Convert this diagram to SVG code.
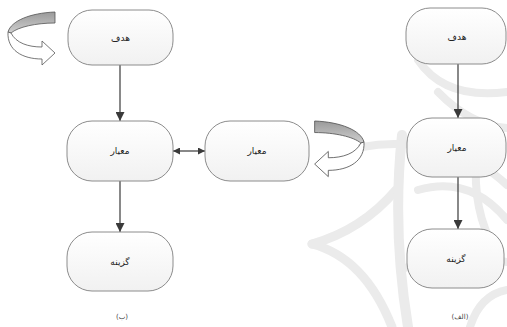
<svg xmlns="http://www.w3.org/2000/svg" width="507" height="327" viewBox="0 0 507 327">
  <defs>
    <linearGradient id="nodeFill" x1="0" y1="0" x2="0" y2="1">
      <stop offset="0" stop-color="#ffffff"/>
      <stop offset="1" stop-color="#f1f1f1"/>
    </linearGradient>
    <linearGradient id="bandFill" x1="0" y1="0" x2="0" y2="1">
      <stop offset="0" stop-color="#9a9a9a"/>
      <stop offset="1" stop-color="#cfcfcf"/>
    </linearGradient>
    <marker id="head" viewBox="0 0 10 10" refX="10" refY="5" markerWidth="7" markerHeight="7" orient="auto-start-reverse" markerUnits="userSpaceOnUse">
      <path d="M0,0 L10,5 L0,10 Z" fill="#3a3a3a"/>
    </marker>
    <marker id="headBig" viewBox="0 0 10 10" refX="10" refY="5" markerWidth="9" markerHeight="9" orient="auto" markerUnits="userSpaceOnUse">
      <path d="M0,0 L10,5 L0,10 Z" fill="#3a3a3a"/>
    </marker>
    <!-- U-turn ribbon arrow: grey back band on top, white front ribbon ending in a head -->
    <g id="uturn">
      <path d="M47,0 L47,11 C28,11 10,15 3,21 L0,20 C3,9 22,1 47,0 Z" fill="url(#bandFill)" stroke="#555" stroke-width="0.8" stroke-linejoin="round"/>
      <path d="M3,21 C8,31 20,35 34,35 L34,29 L47,41 L34,53 L34,47 C14,47 -1,38 0,20 Z" fill="#fff" stroke="#555" stroke-width="0.8" stroke-linejoin="round"/>
    </g>
  </defs>
  <style>
    .node rect { fill: url(#nodeFill); stroke: #8c8c8c; stroke-width: 1; }
    .node text { font-family: "DejaVu Sans", sans-serif; font-size: 9px; fill: #222; text-anchor: middle; }
    .edge { stroke: #3a3a3a; stroke-width: 1.2; fill: none; }
    .caption { font-family: "DejaVu Sans", sans-serif; font-size: 7px; fill: #444; text-anchor: middle; }
    .wm { fill: none; stroke: #ebebeb; stroke-linecap: round; }
  </style>

  <rect width="507" height="327" fill="#fff"/>

  <!-- faint arabesque emblem in the background -->
  <g id="emblem">
    <path class="wm" stroke-width="9" d="M312,244 Q362,230 396,190"/>
    <path class="wm" stroke-width="9" d="M312,244 Q365,258 392,327"/>
    <path class="wm" stroke-width="10" d="M402,135 Q392,230 408,327"/>
    <path class="wm" stroke-width="8" d="M362,147 Q400,140 445,150 Q480,160 507,185"/>
    <path class="wm" stroke-width="8" d="M418,60 Q445,100 507,92"/>
    <path class="wm" stroke-width="8" d="M438,92 Q470,125 507,128"/>
    <path class="wm" stroke-width="8" d="M418,190 Q470,175 507,220"/>
    <path class="wm" stroke-width="8" d="M405,268 Q455,250 507,262"/>
    <path class="wm" stroke-width="8" d="M470,327 Q480,295 507,290"/>
    <path class="wm" stroke-width="8" d="M478,140 Q470,200 490,240"/>
  </g>

  <!-- connectors -->
  <g id="connectors">
    <line class="edge" x1="120" y1="65" x2="120" y2="121" marker-end="url(#headBig)"/>
    <line class="edge" x1="120" y1="181" x2="120" y2="232" marker-end="url(#headBig)"/>
    <line class="edge" x1="173" y1="151" x2="205" y2="151" marker-start="url(#head)" marker-end="url(#head)"/>
    <line class="edge" x1="458" y1="64" x2="458" y2="118" marker-end="url(#headBig)"/>
    <line class="edge" x1="458" y1="177" x2="458" y2="229" marker-end="url(#headBig)"/>
    <use href="#uturn" transform="translate(8,12)"/>
    <use href="#uturn" transform="translate(364,121) scale(-1.05,1.05)"/>
  </g>

  <!-- (ب) -->
  <g id="b-goal" class="node">
    <rect x="68" y="10" width="105" height="55" rx="24" ry="24"/>
    <text x="120.5" y="41">هدف</text>
  </g>
  <g id="b-criterion" class="node">
    <rect x="67" y="121" width="106" height="60" rx="25" ry="25"/>
    <text x="120" y="154">معیار</text>
  </g>
  <g id="b-option" class="node">
    <rect x="67" y="232" width="106" height="59" rx="25" ry="25"/>
    <text x="120" y="265">گزینه</text>
  </g>
  <g id="b-criterion2" class="node">
    <rect x="205" y="121" width="104" height="60" rx="25" ry="25"/>
    <text x="257" y="154">معیار</text>
  </g>

  <!-- (الف) -->
  <g id="a-goal" class="node">
    <rect x="406" y="8" width="100" height="56" rx="24" ry="24"/>
    <text x="457" y="40">هدف</text>
  </g>
  <g id="a-criterion" class="node">
    <rect x="407" y="118" width="99" height="59" rx="25" ry="25"/>
    <text x="457" y="151">معیار</text>
  </g>
  <g id="a-option" class="node">
    <rect x="407" y="229" width="97" height="59" rx="25" ry="25"/>
    <text x="456" y="262">گزینه</text>
  </g>

  <text class="caption" x="122" y="319">(ب)</text>
  <text class="caption" x="460" y="319">(الف)</text>
</svg>
